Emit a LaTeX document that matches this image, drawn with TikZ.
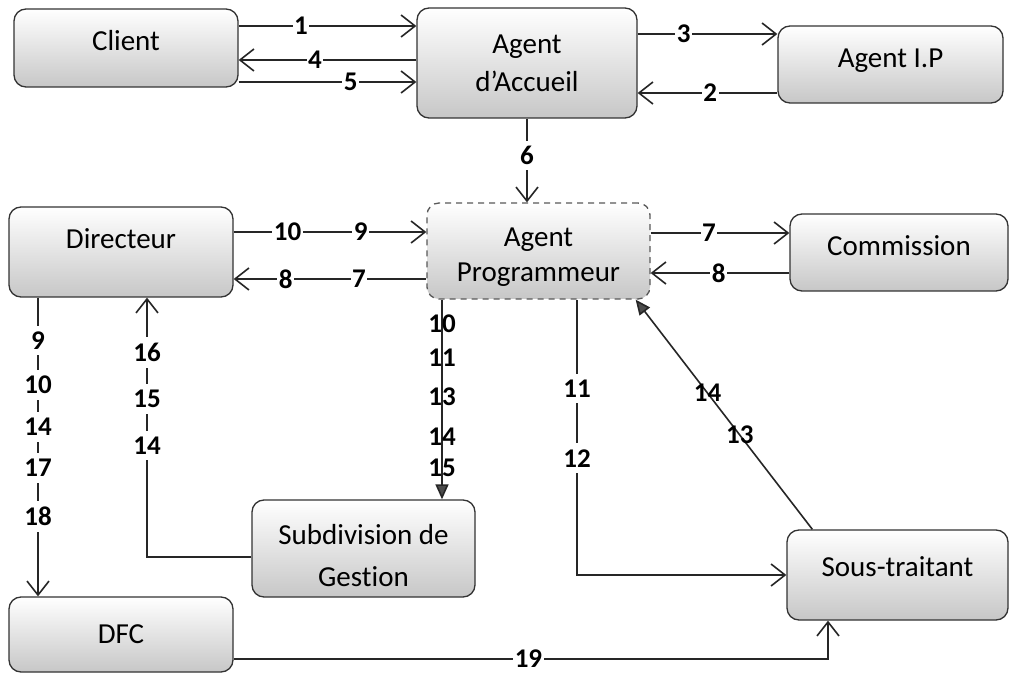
\documentclass[tikz,border=0pt]{standalone}
\usepackage{fontspec}
\setmainfont{Carlito}[Ligatures=NoCommon]
\newfontfamily\numfont{Carlito Bold}
\usetikzlibrary{arrows.meta,calc}

\begin{document}
\begin{tikzpicture}[x=1pt,y=-1pt,
  box/.style={draw=black!80, line width=1.3pt, rounded corners=12pt,
    top color=white, middle color=black!6, bottom color=black!22, align=center, inner sep=0pt,
    font=\fontsize{29}{38}\selectfont},
  lift/.style={text height=20pt, text depth=14pt},
  liftmore/.style={text height=18pt, text depth=24pt},
  flow/.style={draw=black!85, line width=1.6pt,
    -{Straight Barb[length=14pt,width=22pt,line width=1.6pt]}},
  solidtip/.style={draw=black!85, line width=1.6pt,
    -{Triangle[length=15pt,width=13pt,fill=black!70]}},
  num/.style={font=\numfont\fontsize{27}{27}\selectfont, inner xsep=1.5pt, inner ysep=1pt, fill=white},
  vnum/.style={num, inner ysep=6pt},
  onnum/.style={font=\numfont\fontsize{27}{27}\selectfont, inner sep=0pt},
]
\useasboundingbox (0,0) rectangle (1010,676);
\fill[white] (0,0) rectangle (1010,676);

% ---- actors ----
\node[box, lift, minimum width=224pt, minimum height=78pt] (client) at (126,48) {Client};
\node[box, minimum width=220pt, minimum height=110pt] (aa) at (527,63) {Agent\\d’Accueil};
\node[box, lift, minimum width=225pt, minimum height=77pt] (aip) at (890.5,64.5) {Agent I.P};
\node[box, liftmore, minimum width=224pt, minimum height=90pt] (dir) at (121,252) {Directeur};
\node[box, draw=black!65, dash pattern=on 6pt off 5pt, minimum width=223pt, minimum height=96pt,
  font=\fontsize{29}{35}\selectfont, text height=69pt, text depth=7pt] (ap) at (538.5,251) {Agent\\Programmeur};
\node[box, lift, minimum width=218pt, minimum height=77pt] (com) at (899,252.5) {Commission};
\node[box, minimum width=223pt, minimum height=97pt,
  font=\fontsize{29}{42}\selectfont, text height=82pt, text depth=7pt] (sub) at (363.5,548.5) {Subdivision de\\Gestion};
\node[box, text height=18pt, text depth=16pt, minimum width=221pt, minimum height=90pt] (st) at (897.5,575) {Sous-traitant};
\node[box, minimum width=224pt, minimum height=75pt] (dfc) at (121,634.5) {DFC};

% ---- helper rows and columns ----
\coordinate (r1) at (0,26);
\coordinate (r4) at (0,60);
\coordinate (r5) at (0,82);
\coordinate (r3) at (0,34);
\coordinate (r2) at (0,93);
\coordinate (r10) at (0,232);
\coordinate (r8) at (0,279);
\coordinate (rc7) at (0,233);
\coordinate (rc8) at (0,273);
\coordinate (rsub) at (0,557);
\coordinate (rst) at (0,575);
\coordinate (rdfc) at (0,659);
\coordinate (cdir) at (38,0);
\coordinate (cret) at (147,0);
\coordinate (csub) at (442,0);
\coordinate (cst) at (577,0);
\coordinate (cup) at (828,0);

% ---- reception ----
\draw[flow] (client.east |- r1) -- node[num, pos=0.35] {1} (aa.west |- r1);
\draw[flow] (aa.west |- r4) -- node[num, pos=0.57] {4} (client.east |- r4);
\draw[flow] (client.east |- r5) -- node[num, pos=0.63] {5} (aa.west |- r5);
\draw[flow] (aa.east |- r3) -- node[num, pos=0.33] {3} (aip.west |- r3);
\draw[flow] (aip.west |- r2) -- node[num, pos=0.48] {2} (aa.east |- r2);
\draw[flow] (aa.south) -- node[num, inner ysep=5pt, pos=0.44] {6} (aa.south |- ap.north);

% ---- programming ----
\draw[flow] (dir.east |- r10) -- node[num, pos=0.28] {10} node[num, pos=0.66] {9} (ap.west |- r10);
\draw[flow] (ap.west |- r8) -- node[num, pos=0.35] {7} node[num, pos=0.73] {8} (dir.east |- r8);
\draw[flow] (ap.east |- rc7) -- node[num, pos=0.42] {7} (com.west |- rc7);
\draw[flow] (com.west |- rc8) -- node[num, pos=0.51] {8} (ap.east |- rc8);

% ---- director to DFC ----
\draw[flow] (dir.south -| cdir) --
  node[vnum, pos=0.143] {9} node[vnum, pos=0.293] {10} node[vnum, pos=0.433] {14}
  node[vnum, pos=0.57] {17} node[vnum, pos=0.733] {18} (dfc.north -| cdir);

% ---- management unit back to director ----
\draw[flow] (sub.west |- rsub) -| node[vnum, pos=0.715] {14} node[vnum, pos=0.804] {15}
  node[vnum, pos=0.894] {16} (dir.south -| cret);

% ---- programmer to management unit ----
\draw[solidtip] (ap.south -| csub) --
  node[onnum, pos=0.119] {10} node[onnum, pos=0.289] {11} node[onnum, pos=0.488] {13}
  node[onnum, pos=0.687] {14} node[onnum, pos=0.841] {15} (sub.north -| csub);

% ---- subcontractor loop ----
\draw[flow] (ap.south -| cst) |- node[vnum, pos=0.161] {11}
  node[vnum, pos=0.288] {12} (st.west |- rst);
\draw[solidtip] ([xshift=26pt]st.north west) --
  node[onnum, pos=0.41] {13} node[onnum, pos=0.593] {14} ([xshift=-15pt]ap.south east);

% ---- DFC to subcontractor ----
\draw[flow, line width=2pt] (dfc.east |- rdfc) -| node[num, pos=0.248] {19} (st.south -| cup);
\end{tikzpicture}
\end{document}
